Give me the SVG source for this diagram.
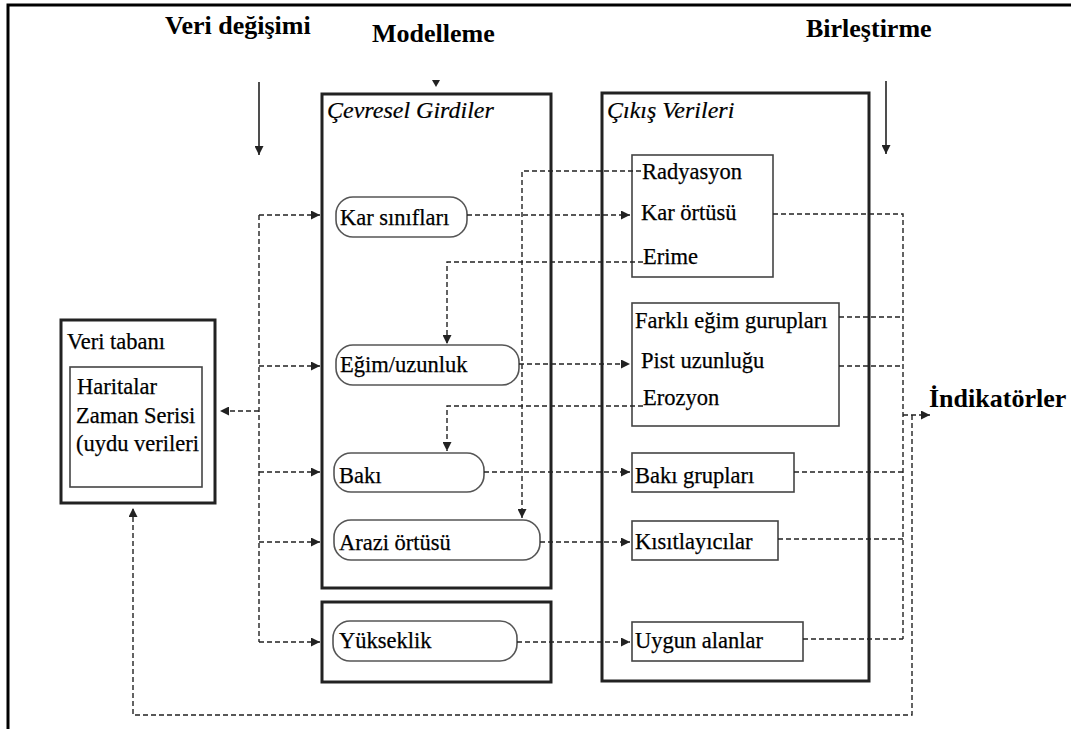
<svg xmlns="http://www.w3.org/2000/svg" width="1071" height="729" viewBox="0 0 1071 729">
<style>
.t{font-family:"Liberation Serif","Times New Roman",serif;font-size:22.5px;fill:#000;stroke:#000;stroke-width:0.25}
.ti{font-family:"Liberation Serif","Times New Roman",serif;font-size:24px;font-style:italic;fill:#000;stroke:#000;stroke-width:0.2}
.h{font-family:"Liberation Serif","Times New Roman",serif;font-size:26px;font-weight:bold;fill:#000}
.thick{fill:#fff;stroke:#222;stroke-width:3}
.pill{fill:#fff;stroke:#555;stroke-width:1.6}
.box{fill:#fff;stroke:#444;stroke-width:1.6}
.d{fill:none;stroke:#222;stroke-width:1.4;stroke-dasharray:5,3}
.s{fill:none;stroke:#222;stroke-width:1.6}
</style>
<defs>
<marker id="ah" viewBox="0 0 10 10" refX="10" refY="5" markerWidth="12" markerHeight="9" markerUnits="userSpaceOnUse" orient="auto">
<path d="M0,0 L10,5 L0,10 z" fill="#222"/>
</marker>
</defs>
<rect width="1071" height="729" fill="#fff"/>
<path d="M8,729 V5 H1071" fill="none" stroke="#000" stroke-width="3"/>

<g id="titles">
<text class="h" x="165" y="34">Veri değişimi</text>
<text class="h" x="372" y="42">Modelleme</text>
<text class="h" x="806" y="37">Birleştirme</text>
<text class="h" x="929" y="407">İndikatörler</text>
</g>

<g id="cevresel">
<rect class="thick" x="322" y="94" width="229" height="494"/>
<text class="ti" x="327" y="118">Çevresel Girdiler</text>
</g>
<g id="yukseklik-box">
<rect class="thick" x="322" y="602" width="229" height="80"/>
</g>
<g id="cikis">
<rect class="thick" x="602" y="93" width="267" height="588"/>
<text class="ti" x="607" y="118">Çıkış Verileri</text>
</g>

<g id="veritabani">
<rect class="thick" x="61" y="320" width="154" height="183"/>
<text class="t" x="67" y="349">Veri tabanı</text>
<rect class="box" x="70" y="367" width="132" height="120"/>
<text class="t" x="77" y="394">Haritalar</text>
<text class="t" x="76" y="423">Zaman Serisi</text>
<text class="t" x="76" y="451">(uydu verileri</text>
</g>

<g id="kar-siniflari">
<rect class="pill" x="336" y="197" width="131" height="40" rx="17"/>
<text class="t" x="340" y="225">Kar sınıfları</text>
</g>
<g id="egim">
<rect class="pill" x="336" y="345" width="183" height="40" rx="17"/>
<text class="t" x="340" y="372">Eğim/uzunluk</text>
</g>
<g id="baki">
<rect class="pill" x="334" y="453" width="150" height="39" rx="17"/>
<text class="t" x="339" y="483">Bakı</text>
</g>
<g id="arazi">
<rect class="pill" x="334" y="520" width="206" height="40" rx="17"/>
<text class="t" x="339" y="550">Arazi örtüsü</text>
</g>
<g id="yukseklik">
<rect class="pill" x="333" y="621" width="184" height="40" rx="17"/>
<text class="t" x="339" y="648">Yükseklik</text>
</g>

<g id="radyasyon">
<rect class="box" x="632" y="155" width="141" height="122"/>
<text class="t" x="642" y="179">Radyasyon</text>
<text class="t" x="641" y="220">Kar örtüsü</text>
<text class="t" x="643" y="264">Erime</text>
</g>
<g id="farkli">
<rect class="box" x="632" y="303" width="207" height="123"/>
<text class="t" x="635" y="328">Farklı eğim gurupları</text>
<text class="t" x="641" y="368">Pist uzunluğu</text>
<text class="t" x="643" y="405">Erozyon</text>
</g>
<g id="baki-gruplari">
<rect class="box" x="632" y="453" width="162" height="39"/>
<text class="t" x="635" y="483">Bakı grupları</text>
</g>
<g id="kisitlayicilar">
<rect class="box" x="632" y="521" width="146" height="39"/>
<text class="t" x="635" y="549">Kısıtlayıcılar</text>
</g>
<g id="uygun">
<rect class="box" x="632" y="622" width="171" height="39"/>
<text class="t" x="635" y="648">Uygun alanlar</text>
</g>

<g id="connectors">
<path class="s" d="M259,82 V155" marker-end="url(#ah)"/>
<path class="s" d="M886,81 V154" marker-end="url(#ah)"/>
<polygon points="432,80 440,80 436,87" fill="#222"/>

<path class="d" d="M259,215 V642"/>
<path class="d" d="M259,215 H320" marker-end="url(#ah)"/>
<path class="d" d="M259,366 H320" marker-end="url(#ah)"/>
<path class="d" d="M259,472 H320" marker-end="url(#ah)"/>
<path class="d" d="M259,542 H320" marker-end="url(#ah)"/>
<path class="d" d="M259,642 H320" marker-end="url(#ah)"/>
<path class="d" d="M259,411 H220" marker-end="url(#ah)"/>

<path class="d" d="M467,215 H630" marker-end="url(#ah)"/>
<path class="d" d="M519,364 H630" marker-end="url(#ah)"/>
<path class="d" d="M484,472 H630" marker-end="url(#ah)"/>
<path class="d" d="M540,542 H630" marker-end="url(#ah)"/>
<path class="d" d="M517,642 H630" marker-end="url(#ah)"/>

<path class="d" d="M641,171 H522 V518" marker-end="url(#ah)"/>
<path class="d" d="M643,262 H447 V344" marker-end="url(#ah)"/>
<path class="d" d="M643,406 H447 V451" marker-end="url(#ah)"/>

<path class="d" d="M773,214 H903 V639"/>
<path class="d" d="M839,317 H903"/>
<path class="d" d="M839,366 H903"/>
<path class="d" d="M794,472 H903"/>
<path class="d" d="M778,539 H903"/>
<path class="d" d="M803,639 H903"/>
<path class="d" d="M903,415 H930" marker-end="url(#ah)"/>
<path class="d" d="M912,415 V715 H133 V508" marker-end="url(#ah)"/>
</g>
</svg>
